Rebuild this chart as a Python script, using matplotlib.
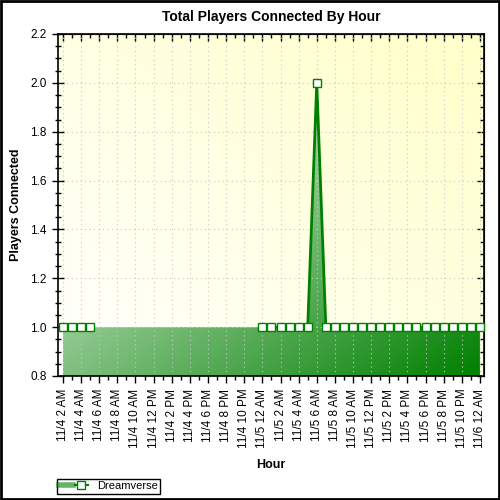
import matplotlib
matplotlib.use("Agg")
import matplotlib.pyplot as plt
import numpy as np
from matplotlib.colors import LinearSegmentedColormap
from matplotlib.lines import Line2D
from matplotlib.patches import Rectangle
from matplotlib.legend_handler import HandlerTuple
from matplotlib.ticker import MultipleLocator

# hours since 11/4 2 AM
hours = np.arange(47)
players = [1, 1, 1, 1] + [np.nan] * 18 + [1, 1, 1, 1, 1, 1, 2] + [1] * 18
tick_labels = ["11/4 2 AM", "11/4 4 AM", "11/4 6 AM", "11/4 8 AM", "11/4 10 AM",
               "11/4 12 PM", "11/4 2 PM", "11/4 4 PM", "11/4 6 PM", "11/4 8 PM",
               "11/4 10 PM", "11/5 12 AM", "11/5 2 AM", "11/5 4 AM", "11/5 6 AM",
               "11/5 8 AM", "11/5 10 AM", "11/5 12 PM", "11/5 2 PM", "11/5 4 PM",
               "11/5 6 PM", "11/5 8 PM", "11/5 10 PM", "11/6 12 AM"]
y_ticks = [0.8, 1.0, 1.2, 1.4, 1.6, 1.8, 2.0, 2.2]
series_name = "Dreamverse"

plt.rcParams['font.family'] = ['Liberation Sans', 'DejaVu Sans']

green = "#008000"
players = np.array(players, dtype=float)

fig = plt.figure(figsize=(5, 5), dpi=100)
ax = fig.add_axes([0.116, 0.248, 0.852, 0.684])
xmin, xmax = -0.55, 46.45
ymin, ymax = 0.8, 2.2

# background gradient: white bottom-left -> pale yellow top-right
n = 200
u = np.linspace(0, 1, n)
U, V = np.meshgrid(u, u)
bg_cmap = LinearSegmentedColormap.from_list("bg", ["#ffffff", "#ffffc8"])
ax.imshow((U + V) / 2, cmap=bg_cmap, extent=[xmin, xmax, ymin, ymax],
          origin="lower", aspect="auto", zorder=0, vmin=0, vmax=1)

# area fill with diagonal gradient
ok = ~np.isnan(players)
fill = ax.fill_between(hours[ok], ymin, players[ok], color="none", lw=0)
fx0, fx1 = hours[ok].min(), hours[ok].max()
fy1 = np.nanmax(players)
fill_cmap = LinearSegmentedColormap.from_list("fg", ["#ffffff", green])
grad = ax.imshow((U + (1 - V)) / 2, cmap=fill_cmap, extent=[fx0, fx1, ymin, fy1],
                 origin="lower", aspect="auto", zorder=1, vmin=0, vmax=1)
grad.set_clip_path(fill.get_paths()[0], transform=ax.transData)
ax.set_xlim(xmin, xmax)
ax.set_ylim(ymin, ymax)

ax.plot(hours, players, color=green, lw=2, zorder=3, clip_on=False)
ax.plot(hours, players, ls="none", marker="s", ms=5.5, mfc="white", mec=green,
        mew=1, zorder=4, clip_on=False)

ax.set_xticks(hours[::2])
ax.set_xticklabels(tick_labels, rotation=90, fontsize=8.5)
ax.xaxis.set_minor_locator(MultipleLocator(1))
ax.set_yticks(y_ticks)
ax.set_yticklabels([f"{v:.1f}" for v in y_ticks], fontsize=8.5)
ax.yaxis.set_minor_locator(MultipleLocator(0.05))

ax.tick_params(axis="x", which="major", direction="out", length=5, width=1, pad=4)
ax.tick_params(axis="x", which="minor", direction="out", length=3, width=1)
ax.tick_params(axis="y", which="major", direction="inout", length=9, width=1)
ax.tick_params(axis="y", which="minor", direction="inout", length=5, width=1)

# inward ticks on top and right
top = ax.secondary_xaxis("top")
top.set_xticks(hours[::2])
top.xaxis.set_minor_locator(MultipleLocator(1))
top.tick_params(which="major", direction="in", length=5, width=1, labeltop=False)
top.tick_params(which="minor", direction="in", length=3, width=1)
right = ax.secondary_yaxis("right")
right.set_yticks(y_ticks)
right.yaxis.set_minor_locator(MultipleLocator(0.05))
right.tick_params(which="major", direction="in", length=5, width=1, labelright=False)
right.tick_params(which="minor", direction="in", length=3, width=1)

for s in ax.spines.values():
    s.set_linewidth(1.2)

ax.grid(True, which="major", color="#c8c8c8", linestyle=(0, (1, 3)), lw=0.8)
for gl in ax.get_xgridlines() + ax.get_ygridlines():
    gl.set_zorder(0.5)

ax.set_title("Total Players Connected By Hour", fontsize=10, fontweight="bold", pad=9)
ax.set_xlabel("Hour", fontsize=9, fontweight="bold")
ax.set_ylabel("Players Connected", fontsize=9, fontweight="bold")
ax.xaxis.set_label_coords(0.5, -0.243)
ax.yaxis.set_label_coords(-0.085, 0.5)

# legend
h_line = Line2D([], [], color=green, lw=4, alpha=0.6)
h_mark = Line2D([], [], color=green, lw=1.5, marker="s", ms=5.5, mfc="white", mec=green)
fig.legend([(h_line, h_mark)], [series_name], handler_map={tuple: HandlerTuple(ndivide=None)},
           loc="lower left", bbox_to_anchor=(0.114, 0.013), fontsize=8,
           fancybox=False, edgecolor="black", framealpha=1, borderpad=0.2,
           handlelength=2.6, handletextpad=0.8, borderaxespad=0)

fig.patches.append(Rectangle((0.002, 0.002), 0.996, 0.996, transform=fig.transFigure,
                             fill=False, edgecolor="black", lw=2))

fig.savefig("out.png", dpi=100)
